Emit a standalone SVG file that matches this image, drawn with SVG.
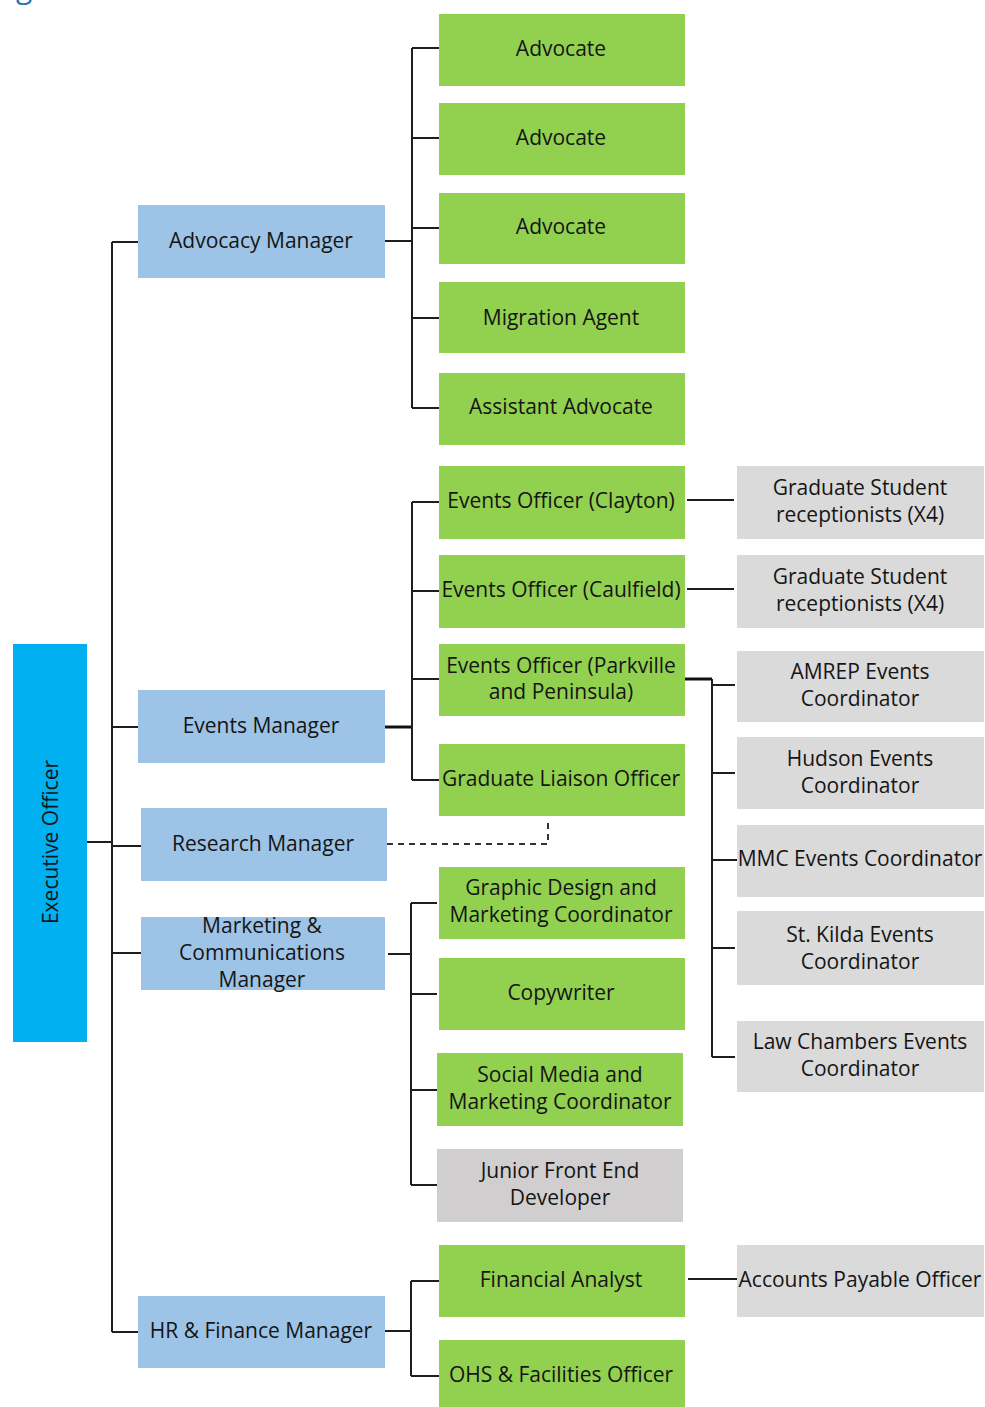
<svg xmlns="http://www.w3.org/2000/svg" width="985" height="1407" viewBox="0 0 985 1407">
<style>
.t{font-family:"Open Sans","Noto Sans","Liberation Sans",sans-serif;font-size:21px;fill:#151515;text-anchor:middle;dominant-baseline:central}
.blue{fill:#9DC3E6}
.green{fill:#92D050}
.gray{fill:#DADADA}
.gray2{fill:#D0CECE}
.exec{fill:#00B0F0}
.ln{stroke:#1e1e1e;stroke-width:2;fill:none}
.thick{stroke:#111;stroke-width:3;fill:none}
.dash{stroke:#333;stroke-width:2;fill:none;stroke-dasharray:6 5}
</style>
<rect width="985" height="1407" fill="#ffffff"/>
<text x="16" y="-2" style="font-family:'Open Sans','Noto Sans',sans-serif;font-size:30px;fill:#2E74B5">g</text>

<g id="connectors">
  <path class="ln" d="M87 842H112M112 242V1332M112 242H138M112 727H138M112 846H141M112 953H141M112 1332H138"/>
  <path class="ln" d="M385 241H412M412 48V408M412 48H439M412 138H439M412 228H439M412 318H439M412 408H439"/>
  <path class="thick" d="M385 727H412"/>
  <path class="ln" d="M412 502V780M412 502H439M412 591H439M412 679H439M412 780H439"/>
  <path class="ln" d="M687 500H734M687 589H734"/>
  <path class="thick" d="M685 679H712"/>
  <path class="ln" d="M712 679V1057M712 685H735M712 773H735M712 860H737M712 948H735M712 1057H735"/>
  <path class="dash" d="M387 844H548V818"/>
  <path class="ln" d="M388 954H411M411 903V1185M411 903H437M411 994H437M411 1090H437M411 1185H437"/>
  <path class="ln" d="M385 1331H411M411 1281V1376M411 1281H439M411 1376H439"/>
  <path class="ln" d="M688 1279H737"/>
</g>

<g id="executive-officer"><rect class="exec" x="13" y="644" width="74" height="398"/><text class="t" transform="translate(50 842) rotate(-90)">Executive Officer</text></g>

<g id="advocacy-manager"><rect class="blue" x="138" y="205" width="247" height="73"/><text class="t" x="261" y="240">Advocacy Manager</text></g>
<g id="events-manager"><rect class="blue" x="138" y="690" width="247" height="73"/><text class="t" x="261" y="725">Events Manager</text></g>
<g id="research-manager"><rect class="blue" x="141" y="808" width="246" height="73"/><text class="t" x="263" y="843">Research Manager</text></g>
<g id="marketing-manager"><rect class="blue" x="141" y="917" width="244" height="73"/><text class="t" x="262" y="925">Marketing &amp;</text><text class="t" x="262" y="952">Communications</text><text class="t" x="262" y="979">Manager</text></g>
<g id="hr-finance-manager"><rect class="blue" x="138" y="1296" width="247" height="72"/><text class="t" x="261" y="1330">HR &amp; Finance Manager</text></g>

<g id="advocate-1"><rect class="green" x="439" y="14" width="246" height="72"/><text class="t" x="561" y="48">Advocate</text></g>
<g id="advocate-2"><rect class="green" x="439" y="103" width="246" height="72"/><text class="t" x="561" y="137">Advocate</text></g>
<g id="advocate-3"><rect class="green" x="439" y="193" width="246" height="71"/><text class="t" x="561" y="226">Advocate</text></g>
<g id="migration-agent"><rect class="green" x="439" y="282" width="246" height="71"/><text class="t" x="561" y="317">Migration Agent</text></g>
<g id="assistant-advocate"><rect class="green" x="439" y="373" width="246" height="72"/><text class="t" x="561" y="406">Assistant Advocate</text></g>

<g id="events-officer-clayton"><rect class="green" x="439" y="466" width="246" height="73"/><text class="t" x="561" y="500">Events Officer (Clayton)</text></g>
<g id="events-officer-caulfield"><rect class="green" x="439" y="555" width="246" height="73"/><text class="t" x="561" y="589">Events Officer (Caulfield)</text></g>
<g id="events-officer-parkville"><rect class="green" x="439" y="644" width="246" height="72"/><text class="t" x="561" y="665">Events Officer (Parkville</text><text class="t" x="561" y="691">and Peninsula)</text></g>
<g id="graduate-liaison-officer"><rect class="green" x="439" y="744" width="246" height="72"/><text class="t" x="561" y="778">Graduate Liaison Officer</text></g>

<g id="graphic-design"><rect class="green" x="439" y="867" width="246" height="72"/><text class="t" x="561" y="887">Graphic Design and</text><text class="t" x="561" y="914">Marketing Coordinator</text></g>
<g id="copywriter"><rect class="green" x="439" y="958" width="246" height="72"/><text class="t" x="561" y="992">Copywriter</text></g>
<g id="social-media"><rect class="green" x="437" y="1053" width="246" height="73"/><text class="t" x="560" y="1074">Social Media and</text><text class="t" x="560" y="1101">Marketing Coordinator</text></g>
<g id="junior-developer"><rect class="gray2" x="437" y="1149" width="246" height="73"/><text class="t" x="560" y="1170">Junior Front End</text><text class="t" x="560" y="1197">Developer</text></g>

<g id="financial-analyst"><rect class="green" x="439" y="1245" width="246" height="72"/><text class="t" x="561" y="1279">Financial Analyst</text></g>
<g id="ohs-facilities"><rect class="green" x="439" y="1340" width="246" height="67"/><text class="t" x="561" y="1374">OHS &amp; Facilities Officer</text></g>

<g id="grad-receptionists-1"><rect class="gray" x="737" y="466" width="247" height="73"/><text class="t" x="860" y="487">Graduate Student</text><text class="t" x="860" y="514">receptionists (X4)</text></g>
<g id="grad-receptionists-2"><rect class="gray" x="737" y="555" width="247" height="73"/><text class="t" x="860" y="576">Graduate Student</text><text class="t" x="860" y="603">receptionists (X4)</text></g>
<g id="amrep"><rect class="gray" x="737" y="651" width="247" height="71"/><text class="t" x="860" y="671">AMREP Events</text><text class="t" x="860" y="698">Coordinator</text></g>
<g id="hudson"><rect class="gray" x="737" y="737" width="247" height="72"/><text class="t" x="860" y="758">Hudson Events</text><text class="t" x="860" y="785">Coordinator</text></g>
<g id="mmc"><rect class="gray" x="737" y="825" width="247" height="72"/><text class="t" x="860" y="858">MMC Events Coordinator</text></g>
<g id="st-kilda"><rect class="gray" x="737" y="911" width="247" height="74"/><text class="t" x="860" y="934">St. Kilda Events</text><text class="t" x="860" y="961">Coordinator</text></g>
<g id="law-chambers"><rect class="gray" x="737" y="1021" width="247" height="71"/><text class="t" x="860" y="1041">Law Chambers Events</text><text class="t" x="860" y="1068">Coordinator</text></g>
<g id="accounts-payable"><rect class="gray" x="737" y="1245" width="247" height="72"/><text class="t" x="860" y="1279">Accounts Payable Officer</text></g>
</svg>
